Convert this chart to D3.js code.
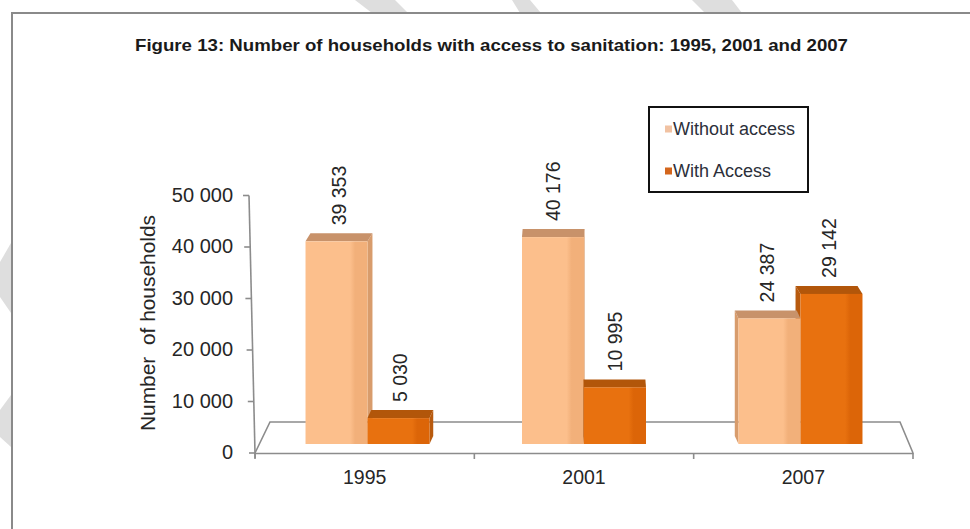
<!DOCTYPE html>
<html>
<head>
<meta charset="utf-8">
<script src="https://cdn.jsdelivr.net/npm/d3@7"></script>
<style>
  html, body { margin: 0; padding: 0; background: #ffffff; }
  svg { display: block; }
  text { font-family: "Liberation Sans", Arial, sans-serif; }
</style>
</head>
<body>
<svg id="chart" width="970" height="529"></svg>
<script>
// ---------- data ----------
const categories = ["1995", "2001", "2007"];
const seriesNames = ["Without access", "With Access"];
const withoutAccess = [39353, 40176, 24387];
const withAccess = [5030, 10995, 29142];
const yTicks = [0, 10000, 20000, 30000, 40000, 50000];
const titleText = "Figure 13: Number of households with access to sanitation: 1995, 2001 and 2007";
const yAxisTitle = "Number  of households";

// ---------- setup ----------
const svg = d3.select("#chart");
const W = 970, H = 529;
const fmt = d3.formatLocale({ decimal: ".", thousands: " ", grouping: [3], currency: ["", ""] }).format(",d");

const colors = {
  front: ["#FCBF8C", "#E8710F"],
  frontDark: ["#F2B07A", "#DC6508"],
  top: ["#C8926A", "#B2560A"],
  side: ["#D89C6C", "#B85A0E"],
  legend: ["#F1C2A2", "#D4661C"]
};

// gradients
const defs = svg.append("defs");
[0, 1].forEach(i => {
  const g = defs.append("linearGradient").attr("id", "grad" + i)
    .attr("x1", "0").attr("x2", "1").attr("y1", "0").attr("y2", "0");
  g.append("stop").attr("offset", "0").attr("stop-color", colors.front[i]);
  g.append("stop").attr("offset", "0.72").attr("stop-color", colors.front[i]);
  g.append("stop").attr("offset", "0.8").attr("stop-color", colors.frontDark[i]);
  g.append("stop").attr("offset", "1").attr("stop-color", colors.frontDark[i]);
});

// background
svg.append("rect").attr("width", W).attr("height", H).attr("fill", "#ffffff");

// faint watermark fragments outside the frame
const wm = svg.append("g").attr("fill", "#dedede");
wm.append("polygon").attr("points", "355,0 395,0 408,13 372,13");
wm.append("polygon").attr("points", "512,0 530,0 541,13 520,13");
wm.append("polygon").attr("points", "692,0 732,0 742,13 705,13");
wm.append("polygon").attr("points", "0,262 11,243 11,313 0,297");
wm.append("polygon").attr("points", "0,410 11,395 11,447 0,437");

// frame (top and left)
svg.append("line").attr("x1", 11).attr("x2", W).attr("y1", 13).attr("y2", 13)
  .attr("stroke", "#8a8a8a").attr("stroke-width", 2);
svg.append("line").attr("x1", 12).attr("x2", 12).attr("y1", 12).attr("y2", H)
  .attr("stroke", "#8a8a8a").attr("stroke-width", 2);

// title
svg.append("text").attr("x", 491.5).attr("y", 45).attr("dy", "0.35em")
  .attr("text-anchor", "middle").attr("font-weight", "bold").attr("font-size", 17)
  .attr("fill", "#1a1a1a")
  .attr("textLength", 713).attr("lengthAdjust", "spacingAndGlyphs")
  .text(titleText);

// ---------- scales ----------
const y = d3.scaleLinear().domain([0, 50000]).range([453, 195.5]);
const x = d3.scaleBand().domain(categories).range([255, 913]).padding(0);
const pairW = 124;
const sub = d3.scaleBand().domain(seriesNames).range([0, pairW]).padding(0);
const vanishX = x(categories[1]) + x.bandwidth() / 2;
const barLift = 9;      // depth offset of bar baseline
const depthY = 8;       // visible top-face depth

// floor
const floorBackY = 422;
svg.append("path")
  .attr("d", `M255,453 L270,${floorBackY} L900,${floorBackY} L913,453`)
  .attr("fill", "none").attr("stroke", "#8c8c8c").attr("stroke-width", 1.6);

// ---------- bars ----------
const bars = [];
categories.forEach((c, i) => {
  [withoutAccess[i], withAccess[i]].forEach((v, s) => {
    const bandC = x(c) + x.bandwidth() / 2;
    const shift = -(bandC - vanishX) * 0.013;
    const x0 = bandC + shift - pairW / 2 + sub(seriesNames[s]);
    const w = sub.bandwidth();
    const yt = y(v) - barLift;
    const yb = y(0) - barLift;
    const dx = (vanishX - (x0 + w / 2)) * 0.02;
    bars.push({ c, s, v, x0, w, yt, yb, dx, dist: Math.abs(x0 + w / 2 - vanishX) });
  });
});
bars.sort((a, b) => b.dist - a.dist);

const gb = svg.append("g");
bars.forEach(b => {
  const g = gb.append("g");
  if (b.dx > 0.5) {
    g.append("polygon").attr("points", [
      [b.x0 + b.w, b.yt], [b.x0 + b.w + b.dx, b.yt - depthY],
      [b.x0 + b.w + b.dx, b.yb - depthY], [b.x0 + b.w, b.yb]].join(" "))
      .attr("fill", colors.side[b.s]);
  } else if (b.dx < -0.5) {
    g.append("polygon").attr("points", [
      [b.x0, b.yt], [b.x0 + b.dx, b.yt - depthY],
      [b.x0 + b.dx, b.yb - depthY], [b.x0, b.yb]].join(" "))
      .attr("fill", colors.side[b.s]);
  }
  g.append("polygon").attr("points", [
    [b.x0, b.yt], [b.x0 + b.w, b.yt],
    [b.x0 + b.w + b.dx, b.yt - depthY], [b.x0 + b.dx, b.yt - depthY]].join(" "))
    .attr("fill", colors.top[b.s]);
  g.append("rect").attr("x", b.x0).attr("y", b.yt).attr("width", b.w).attr("height", b.yb - b.yt)
    .attr("fill", `url(#grad${b.s})`);
});

// data labels (rotated)
bars.forEach(b => {
  const cx = b.x0 + b.w / 2 + b.dx / 2;
  svg.append("text")
    .attr("transform", `translate(${cx},${b.yt - 16}) rotate(-90)`)
    .attr("dy", "0.35em").attr("text-anchor", "start")
    .attr("font-size", 19.5).attr("fill", "#262626")
    .text(fmt(b.v));
});

// ---------- y axis ----------
const axX = yy => 255 - (453 - yy) * (6 / 257.5);
const yAxisG = svg.append("g").call(d3.axisLeft(y).tickValues(yTicks).tickFormat(fmt).tickSize(6).tickPadding(8));
yAxisG.select(".domain").attr("d", `M${axX(195.5)},195.5 L${axX(458)},458`)
  .attr("stroke", "#8c8c8c").attr("stroke-width", 1.6);
yAxisG.selectAll(".tick").attr("transform", d => `translate(${axX(y(d))},${y(d)})`);
yAxisG.selectAll(".tick line").attr("stroke", "#8c8c8c").attr("stroke-width", 1.6);
yAxisG.selectAll(".tick text")
  .attr("x", d => 233 - axX(y(d)))
  .attr("font-size", 20).attr("fill", "#262626")
  .attr("font-family", "Liberation Sans, Arial, sans-serif");

// y axis title
svg.append("text").attr("transform", "translate(148,323) rotate(-90)")
  .attr("dy", "0.35em").attr("text-anchor", "middle")
  .attr("font-size", 19.5).attr("fill", "#262626")
  .attr("textLength", 216).attr("lengthAdjust", "spacingAndGlyphs")
  .style("white-space", "pre")
  .text(yAxisTitle);

// ---------- x axis ----------
const xAxisG = svg.append("g").attr("transform", "translate(0,453)")
  .call(d3.axisBottom(x).tickSize(0).tickPadding(17));
xAxisG.select(".domain").attr("stroke", "#8c8c8c").attr("stroke-width", 1.6);
xAxisG.selectAll(".tick text").attr("font-size", 19.5).attr("fill", "#262626")
  .attr("font-family", "Liberation Sans, Arial, sans-serif");
const edges = categories.map(c => x(c)).concat([x.range()[1]]);
svg.append("g").selectAll("line").data(edges).join("line")
  .attr("x1", d => d).attr("x2", d => d).attr("y1", 453).attr("y2", 459)
  .attr("stroke", "#8c8c8c").attr("stroke-width", 1.6);

// ---------- legend ----------
const lg = svg.append("g");
lg.append("rect").attr("x", 649).attr("y", 107).attr("width", 159).attr("height", 85)
  .attr("fill", "#ffffff").attr("stroke", "#111").attr("stroke-width", 2);
const legendY = [129, 171];
seriesNames.forEach((n, i) => {
  lg.append("rect").attr("x", 665).attr("y", legendY[i] - 3.5).attr("width", 7).attr("height", 7)
    .attr("fill", colors.legend[i]);
  lg.append("text").attr("x", 673).attr("y", legendY[i]).attr("dy", "0.35em")
    .attr("font-size", 18).attr("fill", "#2c2f3a")
    .text(n);
});
</script>
</body>
</html>
